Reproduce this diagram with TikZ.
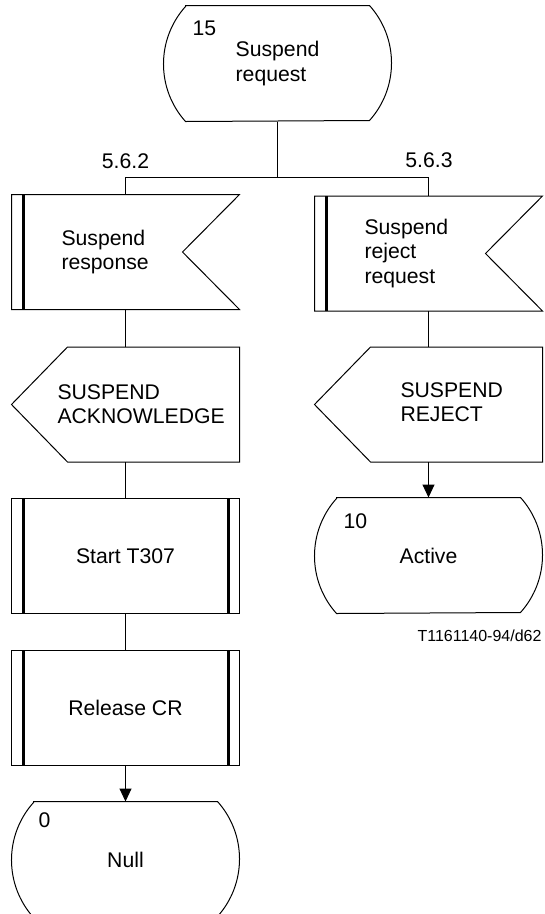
\documentclass[tikz,border=0pt]{standalone}
\usepackage{fontspec}
\setmainfont{Liberation Sans}
\usetikzlibrary{arrows.meta}
\begin{document}
\begin{tikzpicture}[x=1pt,y=1pt,line width=1pt,
  every node/.style={inner sep=0pt,font=\fontsize{21.2}{24.5}\selectfont},
  state/.style={minimum width=227pt,minimum height=115pt,align=left},
  insig/.style={minimum width=227pt,minimum height=114pt,text width=128pt,align=left},
  outsig/.style={minimum width=227pt,minimum height=114pt},
  task/.style={minimum width=227pt,minimum height=114pt},
  sigtext/.style={anchor=west,align=left},
  num/.style={anchor=west},
  bar/.style={line width=2.2pt},
  stem/.style={line width=1.6pt},
  ->/.style={-{Triangle[length=13pt,width=12pt]}}]
\useasboundingbox (0,0) rectangle (545,-914);
% nodes
\node[state] (s15) at (277.5,-63.5) {Suspend\\request};
\node[num] (n15) at (192,-28) {15};
\node (l562) at (125.5,-161) {5.6.2};
\node (l563) at (429,-160) {5.6.3};
\node[insig] (resp) at (125.5,-252) {Suspend\\response};
\node[insig] (rejreq) at (428.5,-253.5) {Suspend\\reject\\request};
\node[outsig] (ack) at (125.5,-404.5) {};
\node[sigtext] (ack-t) at (57,-404) {SUSPEND\\ACKNOWLEDGE};
\node[outsig] (rej) at (428.5,-404.5) {};
\node[sigtext] (rej-t) at (400,-402) {SUSPEND\\REJECT};
\node[state] (s10) at (428.5,-555.5) {Active};
\node[num] (n10) at (343,-521) {10};
\node[task] (t307) at (125.5,-556) {Start T307};
\node[task] (relcr) at (125.5,-708) {Release CR};
\node[state] (s0) at (125.5,-859.5) {Null};
\node[num] (n0) at (38,-820) {0};
\node[anchor=east,font=\fontsize{16}{18}\selectfont] (fig) at (542,-636) {T1161140-94/d62};
% outlines
\foreach \n in {s15,s10,s0}
  \draw ([xshift=22pt]\n.north west) -- ([xshift=-22pt]\n.north east)
    arc[start angle=41.9,end angle=-41.9,radius=86.1pt]
    -- ([xshift=22pt]\n.south west)
    arc[start angle=221.9,end angle=138.1,radius=86.1pt] -- cycle;
\foreach \n in {resp,rejreq} {
  \draw (\n.north west) -- (\n.north east) -- ([xshift=-57pt]\n.east)
    -- (\n.south east) -- (\n.south west) -- cycle;
  \draw[bar] ([xshift=12pt]\n.north west) -- ([xshift=12pt]\n.south west);
}
\foreach \n in {ack,rej}
  \draw ([xshift=56pt]\n.north west) -- (\n.north east) -- (\n.south east)
    -- ([xshift=56pt]\n.south west) -- (\n.west) -- cycle;
\foreach \n in {t307,relcr} {
  \draw (\n.north west) rectangle (\n.south east);
  \draw[bar] ([xshift=12pt]\n.north west) -- ([xshift=12pt]\n.south west)
    ([xshift=-11pt]\n.north east) -- ([xshift=-11pt]\n.south east);
}
% connectors
\coordinate (br) at (277.5,-177.5);
\draw[stem] (s15.south) -- (br);
\draw (resp.north) |- (br) -| (rejreq.north);
\draw (resp.south) -- (ack.north);
\draw (ack.south) -- (t307.north);
\draw (t307.south) -- (relcr.north);
\draw[->] (relcr.south) -- (s0.north);
\draw (rejreq.south) -- (rej.north);
\draw[->] (rej.south) -- (s10.north);
\end{tikzpicture}
\end{document}
